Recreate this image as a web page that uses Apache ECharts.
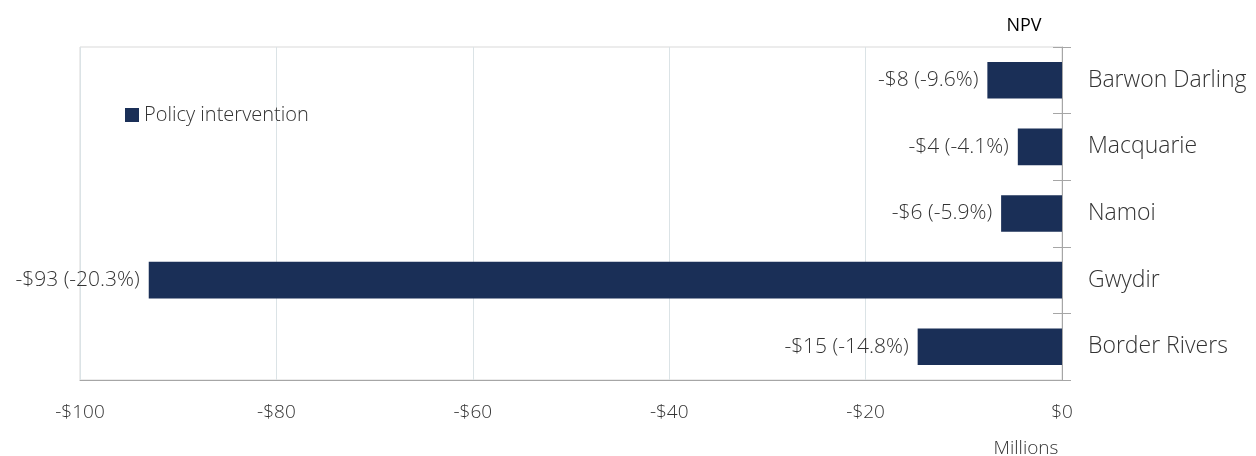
<!DOCTYPE html>
<html>
<head>
<meta charset="utf-8">
<script src="https://cdn.jsdelivr.net/npm/echarts@6/dist/echarts.min.js"></script>
<style>
html,body{margin:0;padding:0;background:#fff;}
#c{width:1256px;height:456px;}
</style>
</head>
<body>
<div id="c"></div>
<script>
const categories = ['Barwon Darling', 'Macquarie', 'Namoi', 'Gwydir', 'Border Rivers'];
const values = [-7.6, -4.5, -6.2, -93.0, -14.7];
const barLabels = ['-$8 (-9.6%)', '-$4 (-4.1%)', '-$6 (-5.9%)', '-$93 (-20.3%)', '-$15 (-14.8%)'];
const seriesName = 'Policy intervention';

const FONT = '"Open Sans", "Noto Sans", sans-serif';
const TXT = '#333333';
const W = 300;
const chart = echarts.init(document.getElementById('c'), null, {renderer: 'canvas'});
chart.setOption({
  animation: false,
  textStyle: {fontFamily: FONT, color: TXT},
  title: [
    {text: 'NPV', left: 1019, top: 12, textAlign: 'center',
     textStyle: {fontFamily: FONT, fontSize: 18, fontWeight: 'normal', color: '#000'}},
    {text: 'Millions', left: 1021, top: 434, textAlign: 'center',
     textStyle: {fontFamily: FONT, fontSize: 19, fontWeight: W, color: TXT}}
  ],
  legend: {
    data: [seriesName], left: 120, top: 100, icon: 'rect', itemWidth: 14, itemHeight: 14,
    itemGap: 6, textStyle: {fontFamily: FONT, fontSize: 20, fontWeight: W, color: TXT}
  },
  grid: {left: 80, right: 194, top: 47, bottom: 76, show: true, borderColor: '#d9d9d9', borderWidth: 1},
  xAxis: {
    type: 'value', min: -100, max: 0, interval: 20,
    axisLine: {show: true, onZero: false, lineStyle: {color: '#a6a6a6'}},
    axisTick: {show: false},
    splitLine: {show: true, lineStyle: {color: '#dbe3e6'}},
    axisLabel: {fontFamily: FONT, fontSize: 19, fontWeight: W, color: TXT, margin: 23,
      formatter: v => v < 0 ? '-$' + (-v) : '$' + v}
  },
  yAxis: [
    {
      type: 'category', data: categories, inverse: true, position: 'right',
      axisLine: {show: true, lineStyle: {color: '#a6a6a6'}},
      axisTick: {show: true, length: 9, lineStyle: {color: '#a6a6a6'}},
      axisLabel: {fontFamily: FONT, fontSize: 23, fontWeight: W, color: TXT, margin: 26,
        padding: [4, 0, 0, 0]}
    },
    {
      type: 'category', data: categories, inverse: true, position: 'right',
      axisLine: {show: false},
      axisTick: {show: true, inside: true, length: 9, lineStyle: {color: '#a6a6a6'}},
      axisLabel: {show: false}
    }
  ],
  series: [{
    name: seriesName, type: 'bar', data: values, barWidth: '55%',
    itemStyle: {color: '#1a2f57'},
    label: {show: true, position: 'left', distance: 9, fontFamily: FONT, fontSize: 21, fontWeight: W, color: TXT,
      formatter: p => barLabels[p.dataIndex]}
  }]
});
</script>
</body>
</html>
